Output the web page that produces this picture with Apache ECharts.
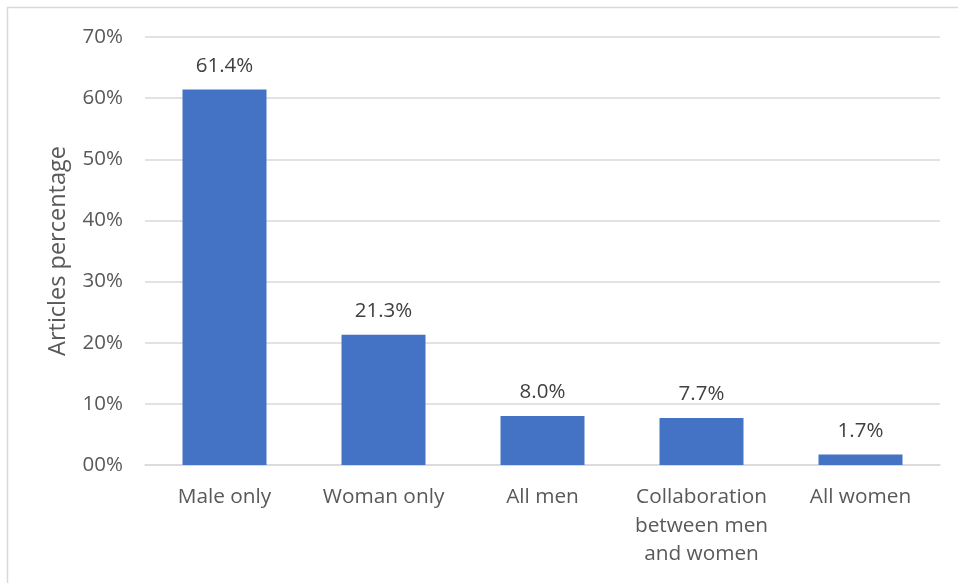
<!DOCTYPE html>
<html>
<head>
<meta charset="utf-8">
<script src="https://cdn.jsdelivr.net/npm/echarts@6/dist/echarts.min.js"></script>
<style>
html,body{margin:0;padding:0;background:#fff;}
#c{width:958px;height:583px;}
</style>
</head>
<body>
<div id="c"></div>
<script>
const categories = ['Male only', 'Woman only', 'All men', 'Collaboration\nbetween men\nand women', 'All women'];
const values = [61.4, 21.3, 8.0, 7.7, 1.7];
const yTickLabels = ['00%', '10%', '20%', '30%', '40%', '50%', '60%', '70%'];

const chart = echarts.init(document.getElementById('c'));
chart.setOption({
  backgroundColor: '#fff',
  animation: false,
  graphic: [{
    type: 'rect',
    shape: { x: 7.5, y: 7.5, width: 1200, height: 1200 },
    style: { fill: 'none', stroke: '#d9d9d9', lineWidth: 1.5 },
    silent: true
  }],
  grid: { left: 145, right: 18, top: 37, bottom: 118 },
  xAxis: {
    type: 'category',
    data: categories,
    axisTick: { show: false },
    axisLine: { lineStyle: { color: '#d9d9d9', width: 1.5 } },
    axisLabel: {
      color: '#595959', fontFamily: 'Open Sans', fontSize: 20.8,
      lineHeight: 28.5, margin: 18, interval: 0
    }
  },
  yAxis: {
    type: 'value',
    min: 0, max: 70, interval: 10,
    name: 'Articles percentage',
    nameLocation: 'middle',
    nameGap: 75,
    nameTextStyle: { color: '#595959', fontFamily: 'Open Sans', fontSize: 23.5 },
    axisLine: { show: false },
    axisTick: { show: false },
    splitLine: { lineStyle: { color: '#d9d9d9', width: 1.5 } },
    axisLabel: {
      color: '#595959', fontFamily: 'Open Sans', fontSize: 20.5, margin: 22,
      formatter: (v) => yTickLabels[Math.round(v / 10)]
    }
  },
  series: [{
    type: 'bar',
    data: values,
    barWidth: 84,
    itemStyle: { color: '#4472C4' },
    label: {
      show: true, position: 'top', distance: 13,
      color: '#404040', fontFamily: 'Open Sans', fontSize: 20.5,
      formatter: (p) => p.value.toFixed(1) + '%'
    }
  }]
});
</script>
</body>
</html>
